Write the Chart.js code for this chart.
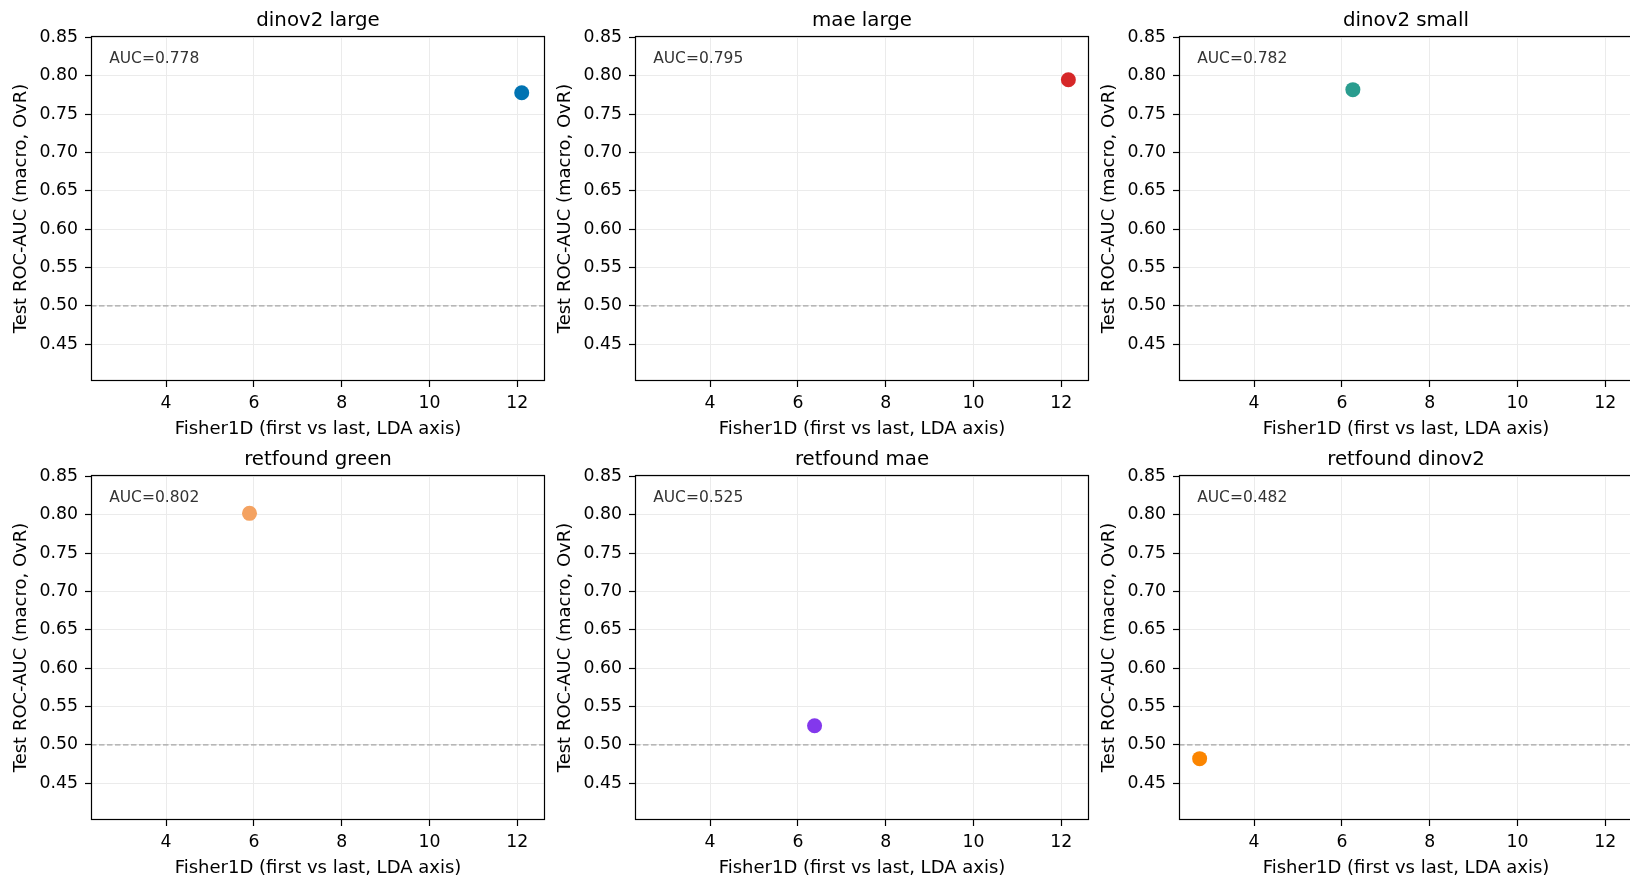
<!DOCTYPE html>
<html>
<head>
<meta charset="utf-8">
<script src="https://cdn.jsdelivr.net/npm/chart.js@4.4.1/dist/chart.umd.min.js"></script>
<style>
  html, body { margin: 0; padding: 0; background: #fff; }
  #fig { position: relative; width: 1630px; height: 878px; overflow: hidden; background: #fff; }
  #fig canvas { position: absolute; }
</style>
</head>
<body>
<div id="fig"></div>
<script>
// values: one point per model
const models   = ["dinov2 large", "mae large", "dinov2 small", "retfound green", "retfound mae", "retfound dinov2"];
const fisher1d = [12.10, 12.16, 6.25, 5.90, 6.38, 2.76];
const testAuc  = [0.778, 0.795, 0.782, 0.802, 0.525, 0.482];
const xTicks   = [4, 6, 8, 10, 12];
const yTicks   = [0.45, 0.50, 0.55, 0.60, 0.65, 0.70, 0.75, 0.80, 0.85];
const chance   = 0.5;   // dashed reference line

const xLabel = "Fisher1D (first vs last, LDA axis)";
const yLabel = "Test ROC-AUC (macro, OvR)";

// styles
const dotColors = ["#0173b2", "#d62728", "#2a9d8f", "#f4a261", "#8338ec", "#fb8500"];
const GRID = "#ebebeb";
const FONT = "'DejaVu Sans', sans-serif";

// layout (px) -- 2 x 3 grid, third column runs off the right edge
const COL_X = [91, 635, 1179];
const ROW_Y = [36, 475];
const PLOT_W = 454, PLOT_H = 345;
const Y_AXIS_W = 91, TITLE_H = 36, X_AXIS_H = 57, PAD_R = 10;

// axis limits like matplotlib: 5% margin on x, fixed offsets on y
const xSpan = Math.max(...fisher1d) - Math.min(...fisher1d);
const xMin = Math.min(...fisher1d) - 0.05 * xSpan;
const xMax = Math.max(...fisher1d) + 0.05 * xSpan;
const yMin = Math.min(...testAuc) - 0.08;
const yMax = Math.max(...testAuc) + 0.05;

Chart.defaults.animation = false;
Chart.defaults.font.family = FONT;
Chart.defaults.color = "#000";

// panel title centred on the axes, box round the axes, AUC note upper-left
const frameAndNote = {
  id: "frameAndNote",
  afterDatasetsDraw(chart, args, opts) {
    const { ctx, chartArea: a } = chart;
    ctx.save();
    ctx.textBaseline = "alphabetic";

    ctx.fillStyle = "#000";
    ctx.font = "19.8px " + FONT;
    ctx.textAlign = "center";
    ctx.fillText(opts.title, (a.left + a.right) / 2, a.top - 10);

    ctx.fillStyle = "#333";
    ctx.font = "15.5px " + FONT;
    ctx.textAlign = "left";
    ctx.fillText(opts.text, a.left + 0.04 * (a.right - a.left), a.top + 26.5);

    ctx.strokeStyle = "#000";
    ctx.lineWidth = 1.2;
    const l = Math.round(a.left) + 0.5, t = Math.round(a.top) + 0.5;
    const r = Math.round(a.right) - 0.5, b = Math.round(a.bottom) - 0.5;
    ctx.strokeRect(l, t, r - l, b - t);
    ctx.restore();
  },
};

const fig = document.getElementById("fig");

function makePanel(i) {
  const col = i % 3, row = Math.floor(i / 3);
  const w = Y_AXIS_W + PLOT_W + PAD_R;
  const h = TITLE_H + PLOT_H + X_AXIS_H;
  const cv = document.createElement("canvas");
  cv.width = w; cv.height = h;
  cv.style.width = w + "px"; cv.style.height = h + "px";
  cv.style.left = (COL_X[col] - Y_AXIS_W) + "px";
  cv.style.top = (ROW_Y[row] - TITLE_H) + "px";
  fig.appendChild(cv);

  new Chart(cv, {
    type: "scatter",
    data: {
      datasets: [
        { data: [{ x: fisher1d[i], y: testAuc[i] }],
          backgroundColor: dotColors[i], borderWidth: 0, pointRadius: 7.5 },
        { data: [{ x: xMin, y: chance }, { x: xMax, y: chance }],
          showLine: true, pointRadius: 0, borderColor: "#a6a6a6",
          borderWidth: 1.2, borderDash: [5.5, 2.5] },
      ],
    },
    options: {
      responsive: false,
      maintainAspectRatio: false,
      animation: false,
      events: [],
      layout: { padding: { left: 0, right: PAD_R, top: TITLE_H, bottom: 0 } },
      plugins: {
        legend: { display: false },
        tooltip: { enabled: false },
        title: { display: false },
        frameAndNote: { title: models[i], text: "AUC=" + testAuc[i].toFixed(3) },
      },
      scales: {
        x: {
          type: "linear", min: xMin, max: xMax, bounds: "data",
          afterBuildTicks: (s) => { s.ticks = xTicks.map((v) => ({ value: v })); },
          afterFit: (s) => { s.height = X_AXIS_H; },
          border: { display: false },
          grid: { color: GRID, lineWidth: 1, tickLength: 6, tickColor: "#000", tickWidth: 1.2 },
          ticks: { font: { size: 17.3 }, color: "#000", padding: 6, maxRotation: 0, autoSkip: false,
                   callback: (v) => String(v) },
          title: { display: true, text: xLabel, color: "#000", font: { size: 18, lineHeight: 1.0 },
                   padding: { top: 0, bottom: 0 } },
        },
        y: {
          type: "linear", min: yMin, max: yMax, bounds: "data",
          afterBuildTicks: (s) => { s.ticks = yTicks.map((v) => ({ value: v })); },
          afterFit: (s) => { s.width = Y_AXIS_W; },
          border: { display: false },
          grid: { color: GRID, lineWidth: 1, tickLength: 6, tickColor: "#000", tickWidth: 1.2 },
          ticks: { font: { size: 17.3 }, color: "#000", padding: 7, autoSkip: false,
                   callback: (v) => Number(v).toFixed(2) },
          title: { display: true, text: yLabel, color: "#000", font: { size: 18 },
                   padding: { top: 11, bottom: 0 } },
        },
      },
    },
    plugins: [frameAndNote],
  });
}

models.forEach((_, i) => makePanel(i));
</script>
</body>
</html>
